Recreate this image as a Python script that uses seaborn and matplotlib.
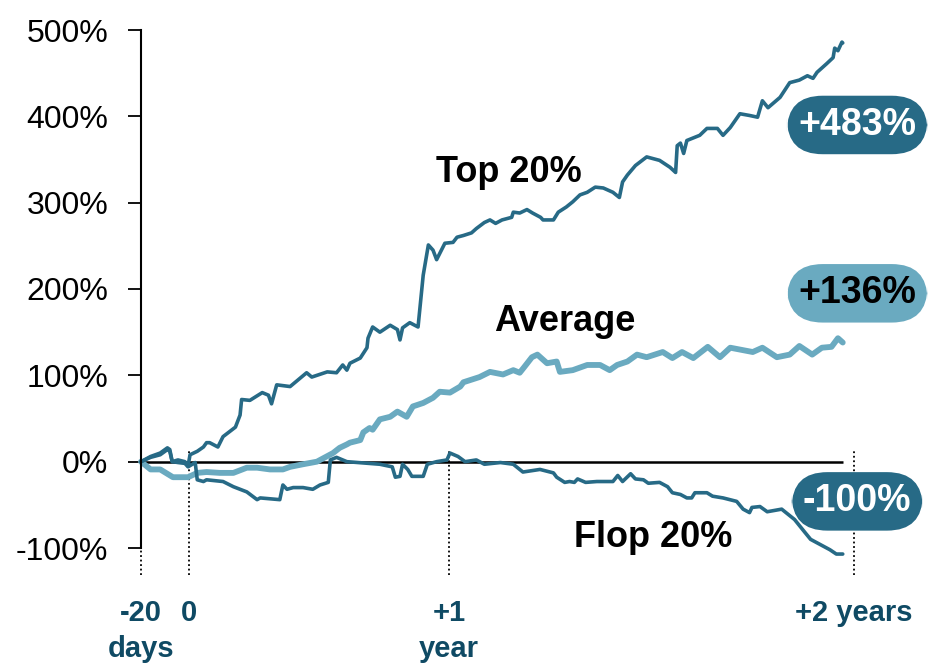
import numpy as np
import matplotlib
matplotlib.use("Agg")
import matplotlib.pyplot as plt
import seaborn as sns

# days relative to event, cumulative return in %
top_days = [-20, -16, -12, -9, -8, -7, -4.6, -1.7, -0.4, 1, 8, 14, 17, 20, 28, 33, 45, 49.5, 51, 59,
            71, 77, 80, 85, 98, 103, 114, 119, 134, 143, 149, 153, 156, 166, 172.5, 173.5, 178, 185,
            195, 202, 204.5, 207, 214, 222, 227, 232, 236.5, 240, 248, 254.5, 257, 261, 266, 269, 274,
            277.5, 281, 285, 291, 292, 296, 300.5, 304, 309, 310.5, 317, 320, 325, 329, 333.5, 338,
            343, 348, 354, 358, 360, 363, 368, 375, 383, 389.5, 393, 394, 396, 398, 400, 408, 412.5,
            419, 422.5, 427, 433, 439, 444, 447, 450.5, 458, 464, 470, 475, 478.5, 481, 487, 491, 492,
            494, 496.5, 497]
top_ret = [0, 6, 10, 16, 14, 0, 2, 0, -5, 8, 12, 17, 22, 22, 17, 29, 40, 54, 72, 71,
           80, 77, 67, 89, 87, 92, 103, 98, 104, 103, 112, 106, 114, 120, 132, 143, 156, 150,
           158, 153, 141, 155, 161, 156, 216, 251, 245, 234, 253, 254, 260, 262, 265, 270, 277,
           280, 276, 280, 283, 289, 288, 292, 288, 283, 280, 280, 289, 295, 301, 309, 312,
           318, 317, 312, 306, 324, 332, 343, 353, 349, 341, 335, 366, 369, 357, 372, 378, 386,
           386, 378, 387, 403, 401, 399, 418, 410, 422, 439, 442, 447, 444, 451, 461, 468, 479,
           476, 486, 485]

avg_days = [-20, -16, -12, -6.7, -0.4, 8, 17, 30, 43, 56, 66, 78.5, 91, 98, 110.5, 124, 139.6, 146,
            153, 156, 166, 169, 175, 178, 185, 195, 202, 211, 217, 227, 236.5, 243, 252.6, 259, 261,
            271, 277.5, 285.6, 292, 296, 299, 303.6, 307, 313, 319, 321, 329, 338, 346, 352, 356.6,
            363, 369, 375, 385, 391, 397, 404, 413, 420.6, 427, 441, 447, 456, 464, 470, 478, 484,
            490, 494, 497]
avg_ret = [0, -9, -9, -18, -18, -13, -12, -13, -13, -7, -7, -9, -9, -6, -3, 0, 10, 16,
           20, 22, 25, 34, 39, 37, 49, 52, 58, 52, 64, 68, 74, 81, 80, 87, 92,
           98, 104, 101, 106, 103, 110, 121, 124, 114, 116, 104, 106, 112, 112, 106, 112,
           116, 124, 121, 127, 120, 127, 120, 133, 121, 132, 127, 132, 121, 124, 134, 124, 132,
           133, 143, 138]

flop_days = [-20, -16, -12, -9, -8, -7, -4.6, -1.7, -0.4, 6, 8, 14, 17, 33, 43, 56, 66, 69, 88, 91,
             95, 101, 110.5, 120, 127, 135, 137, 143, 153, 185, 197, 200, 204.5, 207, 212, 216, 227,
             231, 240, 250, 252.6, 257.6, 262, 269, 274, 284, 292, 298, 308.6, 317, 319, 324, 327,
             330, 332, 337, 344, 354, 357, 360, 365, 368, 373, 376, 383, 388, 391, 396, 400, 403,
             405, 412.5, 416, 422.5, 431, 435, 439, 440.5, 445.5, 450, 459, 467, 473.5, 477, 483,
             489, 493, 497]
flop_ret = [0, 5, 8, 14, 12, 0, -1, -2, -6, -1, -21, -23, -21, -23, -29, -35, -44, -42, -44, -27,
            -32, -30, -30, -32, -27, -24, 2, 5, 0, -3, -6, -18, -17, -3, -9, -17, -17,
            -3, 0, 2, 10, 6, 0, 2, -3, -1, -3, -12, -9, -13, -18, -24, -23,
            -24, -20, -24, -23, -23, -16, -23, -14, -20, -21, -25, -24, -29, -36, -38, -42, -42,
            -36, -36, -40, -42, -46, -55, -59, -53, -52, -58, -55, -67, -82, -90, -96,
            -102, -107, -107]

x_ticks = [-20, 0, 252, 504]
x_labels = ["-20\ndays", "0", "+1\nyear", "+2 years"]
y_ticks = [-100, 0, 100, 200, 300, 400, 500]

DARK = "#276a86"
LIGHT = "#6aaac0"

sns.set_style("white")
plt.rcParams["font.family"] = ["Liberation Sans", "DejaVu Sans"]
plt.rcParams["text.color"] = "black"
plt.rcParams["ytick.color"] = "black"

# uneven spacing of the time axis as in the original chart
XK = [-60, -20, 0, 252, 504, 800]
PK = [-96, 0, 48, 308, 713, 1189]

fig = plt.figure(figsize=(9.33, 6.71), dpi=100)
ax = fig.add_axes([141 / 933, 123 / 671, 713 / 933, 518 / 671])
ax.set_xscale("function", functions=(lambda v: np.interp(v, XK, PK),
                                     lambda p: np.interp(p, PK, XK)))

sns.lineplot(x=avg_days, y=avg_ret, ax=ax, color=LIGHT, linewidth=4.2, estimator=None, clip_on=False)
sns.lineplot(x=top_days, y=top_ret, ax=ax, color=DARK, linewidth=2.6, estimator=None, clip_on=False)
sns.lineplot(x=flop_days, y=flop_ret, ax=ax, color=DARK, linewidth=2.6, estimator=None, clip_on=False)

ax.hlines(0, -20, 497, color="black", linewidth=1.8, zorder=1)
ax.vlines(x_ticks, -131, 12, colors="black", linewidth=1.3,
          linestyles=(0, (1, 1.5)), clip_on=False, zorder=0)

ax.set_xlim(-20, 504)
ax.set_ylim(-100, 500)
ax.set_yticks(y_ticks)
ax.set_yticklabels([f"{v}%" for v in y_ticks])
ax.set_xticks(x_ticks)
ax.set_xticklabels(x_labels, fontweight="bold", color="#0f4a64", linespacing=1.35)
ax.tick_params(axis="y", direction="out", length=9.5, width=1.3, pad=14,
               labelsize=23, color="black", labelcolor="black", left=True)
ax.tick_params(axis="x", length=0, pad=37, labelsize=21)
ax.set_xlabel("")
ax.set_ylabel("")
for s in ["top", "right", "bottom"]:
    ax.spines[s].set_visible(False)
ax.spines["left"].set_color("black")
ax.spines["left"].set_linewidth(1.5)

ax.text(289, 335, "Top 20%", fontsize=26, fontweight="bold", ha="center", va="center")
ax.text(324, 162, "Average", fontsize=26, fontweight="bold", ha="center", va="center")
ax.text(379, -88, "Flop 20%", fontsize=26, fontweight="bold", ha="center", va="center")

badge = "round,pad=0.3,rounding_size=0.95"
ax.text(506, 390, "+483%", fontsize=27, fontweight="bold", color="white", ha="center",
        va="center", clip_on=False, bbox=dict(boxstyle=badge, fc=DARK, ec="none"))
ax.text(506, 195, "+136%", fontsize=27, fontweight="bold", color="black", ha="center",
        va="center", clip_on=False, bbox=dict(boxstyle=badge, fc=LIGHT, ec="none"))
ax.text(506, -46, "-100%", fontsize=27, fontweight="bold", color="white", ha="center",
        va="center", clip_on=False, bbox=dict(boxstyle=badge, fc=DARK, ec="none"))

fig.savefig("out.png", dpi=100)
